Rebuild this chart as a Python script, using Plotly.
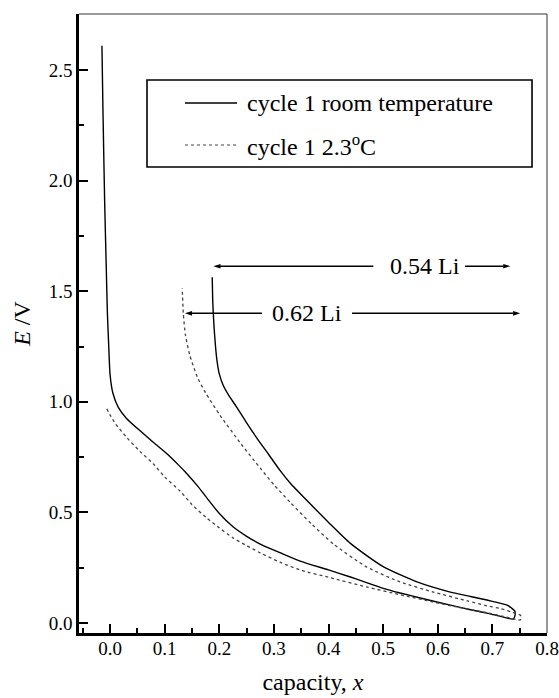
import plotly.graph_objects as go

# cycle 1, room temperature (discharge then charge), capacity x vs E/V
rt_x = [-0.015, -0.013, -0.010, -0.007, -0.005, -0.003, 0.0, 0.005, 0.015, 0.03,
        0.055, 0.08, 0.104, 0.125, 0.141, 0.16, 0.177, 0.2, 0.225, 0.25,
        0.275, 0.311, 0.348, 0.4, 0.44, 0.458, 0.5, 0.531, 0.57, 0.623,
        0.66, 0.69, 0.715, 0.738, 0.741, 0.741, 0.735, 0.727, 0.71, 0.69,
        0.66, 0.623, 0.562, 0.5, 0.44, 0.40, 0.36, 0.33, 0.311, 0.29,
        0.269, 0.25, 0.232, 0.217, 0.207, 0.2, 0.196, 0.193, 0.19, 0.188,
        0.187]
rt_y = [2.61, 2.3, 1.9, 1.6, 1.4, 1.28, 1.12, 1.04, 0.975, 0.925,
        0.869, 0.815, 0.765, 0.715, 0.674, 0.62, 0.566, 0.495, 0.435, 0.392,
        0.357, 0.318, 0.28, 0.24, 0.208, 0.193, 0.157, 0.136, 0.112, 0.081,
        0.06, 0.045, 0.03, 0.018, 0.03, 0.054, 0.068, 0.081, 0.092, 0.104,
        0.12, 0.14, 0.186, 0.255, 0.36, 0.455, 0.555, 0.632, 0.69, 0.763,
        0.835, 0.905, 0.975, 1.03, 1.075, 1.125, 1.18, 1.25, 1.35, 1.45,
        1.563]

# cycle 1, 2.3 C
lt_x = [-0.006, 0.0, 0.01, 0.031, 0.055, 0.079, 0.1, 0.128, 0.15, 0.177,
        0.2, 0.225, 0.25, 0.275, 0.311, 0.348, 0.403, 0.47, 0.531, 0.592,
        0.64, 0.683, 0.72, 0.751, 0.753, 0.751, 0.735, 0.714, 0.69, 0.654,
        0.592, 0.531, 0.47, 0.41, 0.37, 0.33, 0.3, 0.275, 0.238, 0.201,
        0.175, 0.16, 0.146, 0.138, 0.134, 0.132]
lt_y = [0.968, 0.94, 0.9, 0.837, 0.775, 0.72, 0.66, 0.597, 0.535, 0.475,
        0.43, 0.385, 0.35, 0.317, 0.275, 0.24, 0.205, 0.163, 0.128, 0.095,
        0.07, 0.05, 0.03, 0.014, 0.025, 0.036, 0.05, 0.066, 0.078, 0.1,
        0.14, 0.186, 0.253, 0.355, 0.445, 0.545, 0.625, 0.70, 0.815, 0.94,
        1.04, 1.11, 1.21, 1.3, 1.40, 1.514]

legend_labels = ["cycle 1 room temperature", "cycle 1 2.3<sup>o</sup>C"]

# capacity arrows: (label, y level, left head, left tail, text x, right tail, right head)
arrows = [
    ("0.54 Li", 1.613, 0.189, 0.482, 0.577, 0.650, 0.733),
    ("0.62 Li", 1.40, 0.137, 0.278, 0.361, 0.443, 0.751),
]

SERIF = "Liberation Serif"

fig = go.Figure()
fig.add_trace(go.Scatter(x=rt_x, y=rt_y, mode="lines", name=legend_labels[0],
                         line=dict(color="black", width=1.4, shape="spline",
                                   smoothing=0.6),
                         showlegend=False))
fig.add_trace(go.Scatter(x=lt_x, y=lt_y, mode="lines", name=legend_labels[1],
                         line=dict(color="#444444", width=1.3, dash="dot",
                                   shape="spline", smoothing=0.6),
                         showlegend=False))

annotations = []
for label, yv, lh, lt, tx, rt, rh in arrows:
    for tail, head in ((lt, lh), (rt, rh)):
        fig.add_trace(go.Scatter(
            x=[tail, head], y=[yv, yv], mode="lines+markers",
            line=dict(color="black", width=1.6),
            marker=dict(symbol="arrow", angleref="previous", size=7.5,
                        color="black"),
            showlegend=False, hoverinfo="skip"))
    annotations.append(dict(x=tx, y=yv, xref="x", yref="y", text=label,
                            showarrow=False, font=dict(family=SERIF, size=24,
                                                       color="black")))

# manual legend (box, line samples, labels) in paper coordinates
leg_x0, leg_x1, leg_y0, leg_y1 = 0.1453, 0.968, 0.7528, 0.8934
row_y = [0.8562, 0.7884]
samp_x0, samp_x1, text_x = 0.2265, 0.3376, 0.354
shapes = [
    dict(type="rect", xref="paper", yref="paper", x0=leg_x0, x1=leg_x1,
         y0=leg_y0, y1=leg_y1, line=dict(color="black", width=1.6)),
    dict(type="line", xref="paper", yref="paper", x0=samp_x0, x1=samp_x1,
         y0=row_y[0], y1=row_y[0], line=dict(color="black", width=1.4)),
    dict(type="line", xref="paper", yref="paper", x0=samp_x0, x1=samp_x1,
         y0=row_y[1], y1=row_y[1], line=dict(color="#444444", width=1.2, dash="dot")),
    # thin top and right frame
    dict(type="line", xref="paper", yref="paper", x0=0, x1=1, y0=1, y1=1,
         line=dict(color="#333333", width=1)),
    dict(type="line", xref="paper", yref="paper", x0=1, x1=1, y0=0, y1=1,
         line=dict(color="#333333", width=1)),
]
for lab, ry in zip(legend_labels, row_y):
    annotations.append(dict(x=text_x, y=ry, xref="paper", yref="paper",
                            text=lab, showarrow=False, xanchor="left",
                            yanchor="middle",
                            font=dict(family=SERIF, size=24, color="black")))

fig.update_layout(
    width=559, height=698,
    margin=dict(l=79, r=12, t=14, b=65),
    paper_bgcolor="white", plot_bgcolor="white",
    font=dict(family=SERIF, size=19, color="black"),
    annotations=annotations, shapes=shapes,
    showlegend=False,
)
fig.update_xaxes(
    range=[-0.057, 0.8], tick0=0, dtick=0.1, tickformat=".1f",
    ticks="inside", ticklen=9, tickwidth=2, tickcolor="black",
    minor=dict(dtick=0.05, tick0=0, ticks="inside", ticklen=5, tickwidth=2,
               tickcolor="black", showgrid=False),
    showline=True, linewidth=2.5, linecolor="black",
    showgrid=False, zeroline=False, automargin=False,
    ticklabelstandoff=-4,
    tickfont=dict(family=SERIF, size=19, color="black"),
    title=dict(text="capacity, <i>x</i>",
               font=dict(family=SERIF, size=24, color="black"),
               standoff=16),
)
fig.update_yaxes(
    range=[-0.045, 2.753], tick0=0, dtick=0.5, tickformat=".1f",
    ticks="inside", ticklen=9, tickwidth=2, tickcolor="black",
    minor=dict(dtick=0.25, tick0=0, ticks="inside", ticklen=5, tickwidth=2,
               tickcolor="black", showgrid=False),
    showline=True, linewidth=2.5, linecolor="black",
    showgrid=False, zeroline=False, automargin=False,
    tickfont=dict(family=SERIF, size=19, color="black"),
    title=dict(text="<i>E</i> /V",
               font=dict(family=SERIF, size=24, color="black"),
               standoff=12),
)

fig.write_html("out.html")
